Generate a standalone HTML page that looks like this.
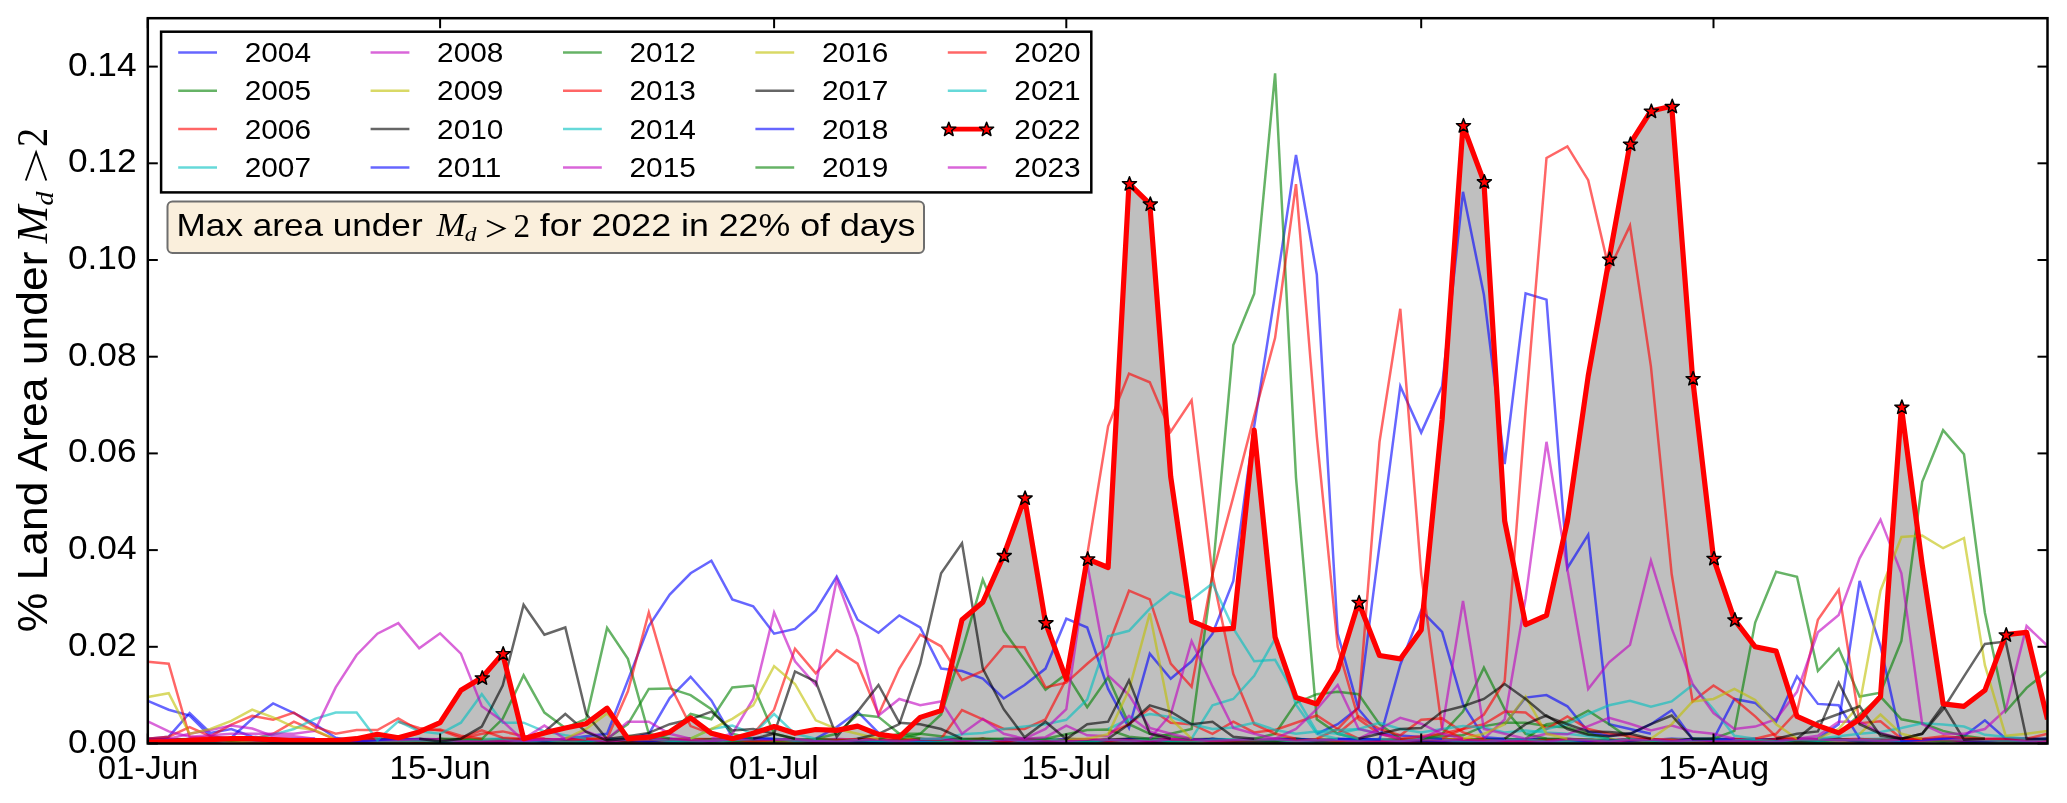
<!DOCTYPE html><html><head><meta charset="utf-8"><style>html,body{margin:0;padding:0;background:#fff;overflow:hidden}svg{display:block;-webkit-font-smoothing:antialiased;will-change:transform}</style></head><body><svg width="2067" height="803" viewBox="0 0 2067 803">
<rect x="0" y="0" width="2067" height="803" fill="#fff"/>
<defs><clipPath id="cp"><rect x="147.8" y="18.2" width="1899.7" height="725.3"/></clipPath></defs>
<g clip-path="url(#cp)">
<polygon points="147.8,743.5 147.8,742.0 168.7,741.6 189.6,740.6 210.4,739.6 231.3,738.7 252.2,738.7 273.1,739.6 293.9,740.6 314.8,740.6 335.7,740.6 356.6,738.7 377.4,734.3 398.3,737.7 419.2,731.9 440.1,722.7 460.9,690.3 481.8,677.7 502.7,653.6 523.6,738.7 544.4,732.9 565.3,728.0 586.2,723.7 607.1,708.2 627.9,738.7 648.8,737.2 669.7,731.9 690.6,717.9 711.4,733.3 732.3,738.7 753.2,733.3 774.1,726.6 795.0,733.3 815.8,729.5 836.7,730.4 857.6,726.1 878.5,734.3 899.3,737.2 920.2,717.4 941.1,710.6 962.0,619.7 982.8,602.3 1003.7,555.4 1024.6,497.9 1045.5,622.6 1066.3,679.2 1087.2,558.8 1108.1,567.5 1129.0,183.6 1149.8,203.9 1170.7,476.6 1191.6,621.2 1212.5,629.9 1233.3,628.4 1254.2,430.2 1275.1,637.1 1296.0,697.6 1316.8,703.9 1337.7,670.0 1358.6,602.3 1379.5,655.5 1400.3,658.9 1421.2,629.9 1442.1,419.5 1463.0,125.5 1483.9,181.6 1504.7,521.1 1525.6,624.6 1546.5,615.4 1567.4,521.1 1588.2,376.0 1609.1,259.0 1630.0,143.9 1650.9,111.0 1671.7,106.2 1692.6,378.4 1713.5,558.3 1734.4,619.7 1755.2,646.8 1776.1,651.1 1797.0,716.4 1817.9,725.6 1838.7,732.9 1859.6,719.3 1880.5,696.6 1901.4,407.0 1922.2,564.6 1943.1,703.9 1964.0,706.3 1984.9,690.3 2005.7,634.7 2026.6,632.3 2047.5,719.3 2047.5,743.5" fill="#bfbfbf" stroke="none"/>
<polyline points="147.8,741.0 168.7,741.5 189.6,739.8 210.4,741.8 231.3,740.2 252.2,740.8 273.1,741.9 293.9,740.3 314.8,741.9 335.7,740.6 356.6,741.8 377.4,741.7 398.3,740.6 419.2,739.3 440.1,741.6 460.9,741.3 481.8,739.9 502.7,738.8 523.6,740.1 544.4,740.7 565.3,738.7 586.2,741.9 607.1,739.1 627.9,741.1 648.8,741.6 669.7,741.7 690.6,741.0 711.4,739.3 732.3,741.4 753.2,740.1 774.1,739.9 795.0,740.8 815.8,740.2 836.7,741.8 857.6,741.8 878.5,741.4 899.3,739.7 920.2,740.6 941.1,741.0 962.0,740.1 982.8,740.5 1003.7,741.0 1024.6,739.4 1045.5,739.7 1066.3,741.2 1087.2,740.1 1108.1,740.3 1129.0,739.1 1149.8,739.6 1170.7,741.1 1191.6,738.7 1212.5,741.6 1233.3,740.6 1254.2,739.5 1275.1,741.5 1296.0,740.4 1316.8,741.9 1337.7,739.8 1358.6,739.5 1379.5,740.1 1400.3,739.1 1421.2,741.0 1442.1,739.7 1463.0,740.0 1483.9,740.1 1504.7,740.5 1525.6,739.2 1546.5,738.9 1567.4,740.4 1588.2,739.8 1609.1,741.8 1630.0,739.7 1650.9,739.9 1671.7,738.7 1692.6,739.3 1713.5,741.1 1734.4,740.7 1755.2,739.8 1776.1,742.0 1797.0,740.5 1817.9,741.5 1838.7,741.7 1859.6,741.8 1880.5,739.4 1901.4,741.6 1922.2,741.2 1943.1,740.7 1964.0,739.1 1984.9,741.8 2005.7,740.5 2026.6,740.2 2047.5,739.1" fill="none" stroke="#0000ff" stroke-opacity="0.6" stroke-width="2.5" stroke-linejoin="miter"/>
<polyline points="147.8,739.3 168.7,739.1 189.6,741.1 210.4,740.6 231.3,740.8 252.2,739.1 273.1,738.8 293.9,741.5 314.8,741.5 335.7,741.3 356.6,741.3 377.4,740.4 398.3,740.1 419.2,741.2 440.1,742.0 460.9,740.6 481.8,740.8 502.7,740.1 523.6,738.8 544.4,739.7 565.3,740.3 586.2,740.0 607.1,739.8 627.9,741.9 648.8,739.0 669.7,739.4 690.6,739.1 711.4,739.3 732.3,740.7 753.2,740.7 774.1,741.7 795.0,739.9 815.8,741.8 836.7,741.8 857.6,741.3 878.5,741.5 899.3,740.9 920.2,741.9 941.1,742.0 962.0,741.5 982.8,741.7 1003.7,740.8 1024.6,742.0 1045.5,739.1 1066.3,740.0 1087.2,741.5 1108.1,741.2 1129.0,740.9 1149.8,740.8 1170.7,741.6 1191.6,739.2 1212.5,738.7 1233.3,740.5 1254.2,740.4 1275.1,741.8 1296.0,741.7 1316.8,740.9 1337.7,741.2 1358.6,739.2 1379.5,741.5 1400.3,742.0 1421.2,738.8 1442.1,740.3 1463.0,741.6 1483.9,740.2 1504.7,742.0 1525.6,740.3 1546.5,738.7 1567.4,739.1 1588.2,739.7 1609.1,741.2 1630.0,740.8 1650.9,741.5 1671.7,739.4 1692.6,740.2 1713.5,739.4 1734.4,740.9 1755.2,741.3 1776.1,739.3 1797.0,738.7 1817.9,739.2 1838.7,739.3 1859.6,739.3 1880.5,739.5 1901.4,741.3 1922.2,740.3 1943.1,740.8 1964.0,742.0 1984.9,742.0 2005.7,741.1 2026.6,741.2 2047.5,739.7" fill="none" stroke="#008000" stroke-opacity="0.6" stroke-width="2.5" stroke-linejoin="miter"/>
<polyline points="147.8,738.8 168.7,740.5 189.6,738.9 210.4,738.7 231.3,738.8 252.2,740.8 273.1,741.3 293.9,741.3 314.8,741.4 335.7,741.4 356.6,739.9 377.4,739.0 398.3,739.2 419.2,740.4 440.1,739.8 460.9,739.3 481.8,741.8 502.7,739.8 523.6,739.0 544.4,739.4 565.3,739.5 586.2,740.4 607.1,741.4 627.9,739.4 648.8,740.9 669.7,739.3 690.6,738.8 711.4,740.7 732.3,740.7 753.2,738.8 774.1,739.6 795.0,741.5 815.8,741.6 836.7,741.5 857.6,739.0 878.5,739.3 899.3,741.6 920.2,739.3 941.1,738.7 962.0,739.8 982.8,740.9 1003.7,740.2 1024.6,741.6 1045.5,742.0 1066.3,738.8 1087.2,739.9 1108.1,740.3 1129.0,738.9 1149.8,740.6 1170.7,739.1 1191.6,739.3 1212.5,741.3 1233.3,741.2 1254.2,741.1 1275.1,741.2 1296.0,740.1 1316.8,741.2 1337.7,740.6 1358.6,741.6 1379.5,739.0 1400.3,740.9 1421.2,740.5 1442.1,740.1 1463.0,739.0 1483.9,740.6 1504.7,738.9 1525.6,740.4 1546.5,740.2 1567.4,740.3 1588.2,742.0 1609.1,740.6 1630.0,741.4 1650.9,742.0 1671.7,739.3 1692.6,741.5 1713.5,740.4 1734.4,739.6 1755.2,740.2 1776.1,740.9 1797.0,740.3 1817.9,740.2 1838.7,739.4 1859.6,741.7 1880.5,740.2 1901.4,741.2 1922.2,741.1 1943.1,739.4 1964.0,740.3 1984.9,740.1 2005.7,739.5 2026.6,739.0 2047.5,740.5" fill="none" stroke="#ff0000" stroke-opacity="0.6" stroke-width="2.5" stroke-linejoin="miter"/>
<polyline points="147.8,740.0 168.7,740.3 189.6,740.3 210.4,739.7 231.3,740.5 252.2,740.2 273.1,740.4 293.9,738.9 314.8,739.7 335.7,739.1 356.6,738.9 377.4,741.2 398.3,740.2 419.2,738.9 440.1,739.2 460.9,741.6 481.8,741.6 502.7,740.6 523.6,741.8 544.4,741.2 565.3,741.8 586.2,739.8 607.1,739.4 627.9,739.0 648.8,741.5 669.7,739.6 690.6,739.8 711.4,741.6 732.3,739.1 753.2,738.8 774.1,741.3 795.0,738.8 815.8,740.7 836.7,740.4 857.6,738.7 878.5,739.2 899.3,741.5 920.2,740.6 941.1,740.3 962.0,740.9 982.8,741.4 1003.7,741.0 1024.6,739.6 1045.5,742.0 1066.3,740.2 1087.2,740.6 1108.1,742.0 1129.0,740.9 1149.8,739.9 1170.7,740.3 1191.6,741.8 1212.5,738.7 1233.3,739.4 1254.2,738.8 1275.1,741.7 1296.0,741.2 1316.8,741.9 1337.7,739.4 1358.6,741.1 1379.5,741.6 1400.3,740.6 1421.2,739.0 1442.1,739.3 1463.0,741.2 1483.9,741.5 1504.7,738.9 1525.6,740.1 1546.5,739.7 1567.4,741.7 1588.2,741.9 1609.1,739.7 1630.0,740.6 1650.9,741.8 1671.7,738.9 1692.6,739.9 1713.5,739.3 1734.4,741.8 1755.2,739.2 1776.1,741.8 1797.0,739.1 1817.9,740.5 1838.7,740.9 1859.6,740.2 1880.5,738.9 1901.4,741.1 1922.2,741.6 1943.1,740.3 1964.0,741.2 1984.9,741.7 2005.7,741.5 2026.6,741.9 2047.5,741.4" fill="none" stroke="#00bfbf" stroke-opacity="0.6" stroke-width="2.5" stroke-linejoin="miter"/>
<polyline points="147.8,741.0 168.7,741.0 189.6,739.5 210.4,741.1 231.3,740.4 252.2,741.4 273.1,740.9 293.9,742.0 314.8,741.2 335.7,742.0 356.6,739.6 377.4,740.2 398.3,741.4 419.2,740.4 440.1,738.9 460.9,741.7 481.8,739.3 502.7,740.6 523.6,740.4 544.4,739.2 565.3,740.7 586.2,740.3 607.1,739.7 627.9,738.7 648.8,740.9 669.7,739.2 690.6,739.7 711.4,739.9 732.3,740.7 753.2,740.9 774.1,741.9 795.0,741.6 815.8,741.8 836.7,739.5 857.6,741.2 878.5,741.5 899.3,741.8 920.2,739.2 941.1,739.1 962.0,739.8 982.8,741.1 1003.7,741.2 1024.6,741.1 1045.5,740.5 1066.3,741.5 1087.2,740.5 1108.1,741.2 1129.0,738.8 1149.8,738.8 1170.7,740.2 1191.6,741.2 1212.5,738.8 1233.3,741.0 1254.2,740.8 1275.1,742.0 1296.0,740.8 1316.8,740.4 1337.7,740.3 1358.6,741.4 1379.5,740.3 1400.3,742.0 1421.2,741.2 1442.1,741.7 1463.0,740.7 1483.9,741.9 1504.7,742.0 1525.6,741.0 1546.5,741.3 1567.4,740.1 1588.2,740.3 1609.1,739.5 1630.0,739.8 1650.9,739.6 1671.7,739.1 1692.6,740.7 1713.5,740.9 1734.4,738.7 1755.2,741.5 1776.1,739.6 1797.0,739.9 1817.9,741.9 1838.7,739.2 1859.6,739.0 1880.5,739.9 1901.4,739.6 1922.2,739.3 1943.1,741.6 1964.0,740.3 1984.9,740.3 2005.7,739.2 2026.6,739.3 2047.5,739.3" fill="none" stroke="#bf00bf" stroke-opacity="0.6" stroke-width="2.5" stroke-linejoin="miter"/>
<polyline points="147.8,740.1 168.7,739.0 189.6,739.7 210.4,739.7 231.3,741.3 252.2,741.9 273.1,741.6 293.9,740.8 314.8,741.7 335.7,739.2 356.6,740.2 377.4,739.9 398.3,739.9 419.2,739.7 440.1,740.4 460.9,742.0 481.8,739.3 502.7,739.5 523.6,740.3 544.4,740.2 565.3,739.8 586.2,741.8 607.1,739.6 627.9,741.2 648.8,741.8 669.7,741.2 690.6,739.6 711.4,741.4 732.3,739.5 753.2,738.7 774.1,740.4 795.0,740.8 815.8,740.4 836.7,739.7 857.6,739.5 878.5,740.0 899.3,739.9 920.2,741.8 941.1,741.6 962.0,741.2 982.8,739.5 1003.7,741.0 1024.6,740.1 1045.5,742.0 1066.3,741.8 1087.2,741.1 1108.1,739.8 1129.0,739.7 1149.8,739.8 1170.7,741.1 1191.6,740.3 1212.5,740.5 1233.3,740.5 1254.2,741.6 1275.1,739.0 1296.0,741.4 1316.8,738.7 1337.7,738.9 1358.6,742.0 1379.5,740.5 1400.3,739.3 1421.2,738.8 1442.1,740.5 1463.0,741.1 1483.9,741.3 1504.7,738.8 1525.6,741.3 1546.5,740.1 1567.4,741.6 1588.2,740.3 1609.1,738.8 1630.0,741.6 1650.9,739.3 1671.7,740.3 1692.6,739.0 1713.5,739.7 1734.4,741.3 1755.2,739.0 1776.1,740.4 1797.0,742.0 1817.9,742.0 1838.7,740.4 1859.6,740.5 1880.5,741.0 1901.4,741.6 1922.2,740.9 1943.1,741.0 1964.0,739.2 1984.9,742.0 2005.7,739.5 2026.6,739.2 2047.5,741.6" fill="none" stroke="#bfbf00" stroke-opacity="0.6" stroke-width="2.5" stroke-linejoin="miter"/>
<polyline points="147.8,738.9 168.7,739.6 189.6,739.0 210.4,741.1 231.3,740.8 252.2,740.7 273.1,738.7 293.9,740.1 314.8,740.8 335.7,740.6 356.6,741.1 377.4,741.9 398.3,741.7 419.2,739.2 440.1,741.1 460.9,738.9 481.8,741.2 502.7,741.1 523.6,740.3 544.4,741.4 565.3,740.8 586.2,738.8 607.1,739.1 627.9,739.3 648.8,739.9 669.7,739.0 690.6,738.9 711.4,740.2 732.3,739.6 753.2,741.9 774.1,739.6 795.0,740.5 815.8,739.5 836.7,739.9 857.6,741.1 878.5,741.9 899.3,738.9 920.2,741.6 941.1,740.5 962.0,740.9 982.8,741.0 1003.7,739.5 1024.6,738.7 1045.5,741.2 1066.3,739.8 1087.2,741.0 1108.1,740.2 1129.0,740.7 1149.8,741.5 1170.7,741.5 1191.6,741.3 1212.5,739.0 1233.3,740.4 1254.2,741.3 1275.1,739.0 1296.0,738.7 1316.8,740.5 1337.7,741.6 1358.6,741.4 1379.5,741.7 1400.3,740.9 1421.2,741.7 1442.1,741.2 1463.0,741.2 1483.9,740.1 1504.7,739.0 1525.6,739.5 1546.5,740.7 1567.4,740.6 1588.2,740.3 1609.1,740.8 1630.0,740.9 1650.9,741.8 1671.7,741.1 1692.6,738.8 1713.5,741.6 1734.4,740.3 1755.2,739.9 1776.1,739.1 1797.0,741.3 1817.9,741.1 1838.7,741.2 1859.6,740.7 1880.5,740.5 1901.4,738.8 1922.2,739.2 1943.1,739.1 1964.0,742.0 1984.9,741.9 2005.7,739.6 2026.6,739.0 2047.5,740.4" fill="none" stroke="#000000" stroke-opacity="0.6" stroke-width="2.5" stroke-linejoin="miter"/>
<polyline points="147.8,740.1 168.7,742.0 189.6,740.7 210.4,738.9 231.3,739.3 252.2,739.2 273.1,738.8 293.9,741.2 314.8,741.7 335.7,741.5 356.6,740.3 377.4,739.7 398.3,738.9 419.2,739.6 440.1,739.9 460.9,739.5 481.8,740.5 502.7,740.2 523.6,741.9 544.4,739.4 565.3,741.3 586.2,738.9 607.1,739.9 627.9,741.0 648.8,741.6 669.7,741.2 690.6,739.9 711.4,739.7 732.3,741.7 753.2,741.8 774.1,740.3 795.0,740.1 815.8,740.7 836.7,741.3 857.6,740.0 878.5,742.0 899.3,741.0 920.2,740.5 941.1,738.8 962.0,739.9 982.8,739.1 1003.7,740.4 1024.6,741.3 1045.5,741.2 1066.3,738.8 1087.2,739.7 1108.1,741.0 1129.0,742.0 1149.8,740.4 1170.7,739.8 1191.6,740.6 1212.5,741.2 1233.3,739.8 1254.2,738.9 1275.1,741.3 1296.0,741.9 1316.8,740.9 1337.7,740.6 1358.6,739.7 1379.5,741.4 1400.3,739.4 1421.2,739.5 1442.1,740.3 1463.0,741.4 1483.9,738.8 1504.7,741.0 1525.6,739.3 1546.5,741.3 1567.4,741.3 1588.2,739.5 1609.1,741.1 1630.0,738.8 1650.9,740.4 1671.7,741.4 1692.6,741.3 1713.5,740.6 1734.4,739.8 1755.2,738.8 1776.1,741.6 1797.0,740.7 1817.9,741.3 1838.7,738.8 1859.6,741.6 1880.5,741.9 1901.4,741.8 1922.2,740.7 1943.1,739.0 1964.0,739.1 1984.9,739.6 2005.7,738.7 2026.6,738.9 2047.5,740.9" fill="none" stroke="#0000ff" stroke-opacity="0.6" stroke-width="2.5" stroke-linejoin="miter"/>
<polyline points="147.8,741.4 168.7,738.9 189.6,739.5 210.4,741.9 231.3,739.8 252.2,740.8 273.1,740.8 293.9,740.9 314.8,741.5 335.7,742.0 356.6,741.1 377.4,740.9 398.3,738.8 419.2,741.6 440.1,738.8 460.9,741.3 481.8,740.8 502.7,739.3 523.6,739.3 544.4,740.6 565.3,741.9 586.2,740.4 607.1,740.8 627.9,738.9 648.8,741.4 669.7,740.8 690.6,739.0 711.4,741.9 732.3,740.7 753.2,739.3 774.1,739.5 795.0,741.9 815.8,741.9 836.7,741.8 857.6,738.9 878.5,741.2 899.3,739.5 920.2,739.0 941.1,740.9 962.0,741.1 982.8,738.8 1003.7,740.0 1024.6,741.2 1045.5,739.6 1066.3,741.0 1087.2,741.1 1108.1,742.0 1129.0,739.5 1149.8,738.9 1170.7,739.9 1191.6,738.9 1212.5,742.0 1233.3,741.3 1254.2,740.4 1275.1,738.8 1296.0,738.8 1316.8,740.7 1337.7,741.2 1358.6,740.6 1379.5,740.4 1400.3,738.9 1421.2,741.4 1442.1,739.3 1463.0,739.5 1483.9,739.3 1504.7,739.4 1525.6,740.0 1546.5,740.9 1567.4,741.0 1588.2,740.8 1609.1,739.4 1630.0,741.8 1650.9,741.4 1671.7,739.5 1692.6,741.2 1713.5,741.8 1734.4,741.9 1755.2,740.2 1776.1,740.9 1797.0,738.7 1817.9,739.1 1838.7,738.7 1859.6,741.2 1880.5,741.8 1901.4,741.7 1922.2,740.4 1943.1,739.6 1964.0,740.5 1984.9,741.3 2005.7,740.6 2026.6,739.9 2047.5,739.8" fill="none" stroke="#008000" stroke-opacity="0.6" stroke-width="2.5" stroke-linejoin="miter"/>
<polyline points="147.8,739.5 168.7,739.2 189.6,739.8 210.4,741.6 231.3,739.2 252.2,741.1 273.1,740.1 293.9,740.8 314.8,739.6 335.7,741.4 356.6,741.2 377.4,741.2 398.3,741.5 419.2,739.1 440.1,740.1 460.9,740.9 481.8,740.7 502.7,738.7 523.6,740.3 544.4,741.3 565.3,739.3 586.2,739.8 607.1,738.7 627.9,741.7 648.8,740.4 669.7,739.3 690.6,739.2 711.4,739.0 732.3,741.9 753.2,741.1 774.1,741.6 795.0,741.4 815.8,738.8 836.7,740.1 857.6,738.9 878.5,740.8 899.3,739.1 920.2,740.5 941.1,741.2 962.0,739.4 982.8,738.8 1003.7,741.7 1024.6,740.0 1045.5,740.0 1066.3,741.3 1087.2,740.8 1108.1,741.6 1129.0,741.4 1149.8,741.2 1170.7,740.0 1191.6,739.8 1212.5,741.4 1233.3,742.0 1254.2,740.9 1275.1,739.8 1296.0,741.4 1316.8,741.0 1337.7,741.4 1358.6,739.4 1379.5,740.2 1400.3,741.8 1421.2,741.7 1442.1,740.7 1463.0,740.2 1483.9,739.9 1504.7,741.7 1525.6,741.5 1546.5,739.7 1567.4,740.7 1588.2,741.1 1609.1,741.0 1630.0,738.8 1650.9,741.0 1671.7,740.1 1692.6,740.8 1713.5,740.6 1734.4,739.1 1755.2,738.7 1776.1,740.8 1797.0,741.4 1817.9,739.6 1838.7,741.4 1859.6,742.0 1880.5,739.0 1901.4,740.6 1922.2,739.3 1943.1,740.7 1964.0,739.1 1984.9,740.5 2005.7,741.5 2026.6,742.0 2047.5,740.2" fill="none" stroke="#ff0000" stroke-opacity="0.6" stroke-width="2.5" stroke-linejoin="miter"/>
<polyline points="147.8,739.9 168.7,739.0 189.6,741.7 210.4,739.9 231.3,740.8 252.2,740.3 273.1,741.6 293.9,741.1 314.8,740.3 335.7,738.9 356.6,741.7 377.4,740.4 398.3,739.3 419.2,738.8 440.1,741.4 460.9,741.6 481.8,738.9 502.7,738.7 523.6,740.4 544.4,741.9 565.3,738.9 586.2,740.7 607.1,739.0 627.9,739.9 648.8,739.3 669.7,741.5 690.6,739.4 711.4,741.3 732.3,740.7 753.2,739.2 774.1,739.2 795.0,741.4 815.8,741.3 836.7,740.7 857.6,740.3 878.5,740.8 899.3,741.6 920.2,741.2 941.1,739.6 962.0,739.0 982.8,741.9 1003.7,740.1 1024.6,739.5 1045.5,741.9 1066.3,739.2 1087.2,741.7 1108.1,740.0 1129.0,740.2 1149.8,739.9 1170.7,741.0 1191.6,740.6 1212.5,740.1 1233.3,740.6 1254.2,739.8 1275.1,740.5 1296.0,740.6 1316.8,742.0 1337.7,740.0 1358.6,740.4 1379.5,741.3 1400.3,739.5 1421.2,739.4 1442.1,740.5 1463.0,741.4 1483.9,740.4 1504.7,741.7 1525.6,741.6 1546.5,740.6 1567.4,741.7 1588.2,740.6 1609.1,740.3 1630.0,741.9 1650.9,739.9 1671.7,741.8 1692.6,739.6 1713.5,739.4 1734.4,740.3 1755.2,741.9 1776.1,740.3 1797.0,740.8 1817.9,738.8 1838.7,741.6 1859.6,739.1 1880.5,738.7 1901.4,739.6 1922.2,739.3 1943.1,741.4 1964.0,738.7 1984.9,740.4 2005.7,738.8 2026.6,738.9 2047.5,741.5" fill="none" stroke="#00bfbf" stroke-opacity="0.6" stroke-width="2.5" stroke-linejoin="miter"/>
<polyline points="147.8,739.4 168.7,738.9 189.6,741.8 210.4,740.9 231.3,739.5 252.2,741.5 273.1,739.0 293.9,741.1 314.8,739.3 335.7,741.6 356.6,740.3 377.4,738.9 398.3,741.3 419.2,741.2 440.1,740.3 460.9,741.0 481.8,741.9 502.7,741.4 523.6,741.5 544.4,738.9 565.3,739.7 586.2,739.0 607.1,741.5 627.9,739.4 648.8,741.7 669.7,740.3 690.6,739.9 711.4,740.8 732.3,739.1 753.2,740.2 774.1,740.1 795.0,739.1 815.8,741.7 836.7,738.7 857.6,739.9 878.5,740.7 899.3,739.3 920.2,741.2 941.1,738.7 962.0,740.1 982.8,740.8 1003.7,739.5 1024.6,740.6 1045.5,741.5 1066.3,739.5 1087.2,741.9 1108.1,739.3 1129.0,741.2 1149.8,739.9 1170.7,738.7 1191.6,740.1 1212.5,739.8 1233.3,741.0 1254.2,742.0 1275.1,741.9 1296.0,741.5 1316.8,740.0 1337.7,740.6 1358.6,740.3 1379.5,739.0 1400.3,741.6 1421.2,741.3 1442.1,739.8 1463.0,742.0 1483.9,742.0 1504.7,740.8 1525.6,741.7 1546.5,740.8 1567.4,741.3 1588.2,740.1 1609.1,740.1 1630.0,741.4 1650.9,739.9 1671.7,740.4 1692.6,741.6 1713.5,738.9 1734.4,741.2 1755.2,741.5 1776.1,741.7 1797.0,739.9 1817.9,739.1 1838.7,739.4 1859.6,740.7 1880.5,741.2 1901.4,742.0 1922.2,739.9 1943.1,740.1 1964.0,740.9 1984.9,739.9 2005.7,740.5 2026.6,738.9 2047.5,739.6" fill="none" stroke="#bf00bf" stroke-opacity="0.6" stroke-width="2.5" stroke-linejoin="miter"/>
<polyline points="147.8,741.2 168.7,739.0 189.6,741.9 210.4,740.3 231.3,740.7 252.2,741.2 273.1,741.9 293.9,739.4 314.8,742.0 335.7,740.2 356.6,738.9 377.4,741.6 398.3,741.4 419.2,740.0 440.1,740.3 460.9,739.9 481.8,739.3 502.7,741.5 523.6,741.0 544.4,741.0 565.3,741.9 586.2,739.0 607.1,739.4 627.9,739.6 648.8,742.0 669.7,739.2 690.6,739.5 711.4,740.5 732.3,739.5 753.2,740.5 774.1,741.3 795.0,741.7 815.8,741.3 836.7,741.9 857.6,740.9 878.5,739.5 899.3,739.7 920.2,739.2 941.1,739.6 962.0,741.1 982.8,740.2 1003.7,740.6 1024.6,739.4 1045.5,740.3 1066.3,741.2 1087.2,739.9 1108.1,738.8 1129.0,741.3 1149.8,739.1 1170.7,742.0 1191.6,741.2 1212.5,741.3 1233.3,739.5 1254.2,738.9 1275.1,739.5 1296.0,740.9 1316.8,739.1 1337.7,740.9 1358.6,741.2 1379.5,739.0 1400.3,739.9 1421.2,739.7 1442.1,739.8 1463.0,738.7 1483.9,740.5 1504.7,739.2 1525.6,739.7 1546.5,739.1 1567.4,740.6 1588.2,739.6 1609.1,740.1 1630.0,741.0 1650.9,741.3 1671.7,739.9 1692.6,741.8 1713.5,739.0 1734.4,741.6 1755.2,742.0 1776.1,741.7 1797.0,738.9 1817.9,740.9 1838.7,741.6 1859.6,742.0 1880.5,741.9 1901.4,739.7 1922.2,739.9 1943.1,739.7 1964.0,739.6 1984.9,741.8 2005.7,740.1 2026.6,740.8 2047.5,739.3" fill="none" stroke="#bfbf00" stroke-opacity="0.6" stroke-width="2.5" stroke-linejoin="miter"/>
<polyline points="147.8,739.3 168.7,739.0 189.6,741.8 210.4,739.1 231.3,739.0 252.2,738.9 273.1,741.7 293.9,741.4 314.8,741.7 335.7,741.9 356.6,739.2 377.4,739.3 398.3,739.9 419.2,739.3 440.1,739.9 460.9,741.1 481.8,741.7 502.7,741.7 523.6,739.5 544.4,741.4 565.3,741.0 586.2,740.6 607.1,742.0 627.9,741.2 648.8,741.1 669.7,739.6 690.6,740.8 711.4,741.0 732.3,738.8 753.2,740.3 774.1,739.2 795.0,740.0 815.8,741.9 836.7,740.7 857.6,740.6 878.5,739.4 899.3,740.9 920.2,739.7 941.1,740.2 962.0,741.3 982.8,739.1 1003.7,741.7 1024.6,739.3 1045.5,741.5 1066.3,742.0 1087.2,741.4 1108.1,739.5 1129.0,738.7 1149.8,742.0 1170.7,740.4 1191.6,740.4 1212.5,739.4 1233.3,741.4 1254.2,740.4 1275.1,740.9 1296.0,739.2 1316.8,741.2 1337.7,738.9 1358.6,741.1 1379.5,741.3 1400.3,739.7 1421.2,740.4 1442.1,741.7 1463.0,739.9 1483.9,741.8 1504.7,739.4 1525.6,739.7 1546.5,739.4 1567.4,739.9 1588.2,740.8 1609.1,740.7 1630.0,740.7 1650.9,739.0 1671.7,741.8 1692.6,739.0 1713.5,742.0 1734.4,741.4 1755.2,741.2 1776.1,739.0 1797.0,740.4 1817.9,740.8 1838.7,739.1 1859.6,741.3 1880.5,740.5 1901.4,740.3 1922.2,739.5 1943.1,739.5 1964.0,739.9 1984.9,740.9 2005.7,740.9 2026.6,741.5 2047.5,739.2" fill="none" stroke="#000000" stroke-opacity="0.6" stroke-width="2.5" stroke-linejoin="miter"/>
<polyline points="147.8,739.8 168.7,739.5 189.6,741.5 210.4,740.6 231.3,739.4 252.2,740.1 273.1,741.6 293.9,740.5 314.8,739.1 335.7,741.2 356.6,741.4 377.4,741.0 398.3,739.7 419.2,739.2 440.1,741.5 460.9,741.5 481.8,741.2 502.7,740.9 523.6,740.3 544.4,741.5 565.3,740.9 586.2,741.4 607.1,738.7 627.9,739.6 648.8,741.7 669.7,738.8 690.6,741.7 711.4,740.7 732.3,738.7 753.2,739.4 774.1,739.6 795.0,740.6 815.8,741.4 836.7,739.9 857.6,741.7 878.5,741.4 899.3,740.7 920.2,741.9 941.1,740.7 962.0,739.4 982.8,739.7 1003.7,740.4 1024.6,739.9 1045.5,740.5 1066.3,741.6 1087.2,740.0 1108.1,740.7 1129.0,739.5 1149.8,739.0 1170.7,740.6 1191.6,740.1 1212.5,739.5 1233.3,740.6 1254.2,741.3 1275.1,739.6 1296.0,739.1 1316.8,739.4 1337.7,739.7 1358.6,739.2 1379.5,739.7 1400.3,739.9 1421.2,740.5 1442.1,741.0 1463.0,739.9 1483.9,741.7 1504.7,740.6 1525.6,739.4 1546.5,739.6 1567.4,739.9 1588.2,741.2 1609.1,740.6 1630.0,740.5 1650.9,739.9 1671.7,740.7 1692.6,739.8 1713.5,738.9 1734.4,741.4 1755.2,739.8 1776.1,739.4 1797.0,740.7 1817.9,740.4 1838.7,738.8 1859.6,741.9 1880.5,740.2 1901.4,741.5 1922.2,739.4 1943.1,738.9 1964.0,740.3 1984.9,741.7 2005.7,740.1 2026.6,740.2 2047.5,739.6" fill="none" stroke="#0000ff" stroke-opacity="0.6" stroke-width="2.5" stroke-linejoin="miter"/>
<polyline points="147.8,740.3 168.7,739.9 189.6,739.2 210.4,740.3 231.3,740.7 252.2,738.8 273.1,741.3 293.9,739.7 314.8,740.7 335.7,739.5 356.6,741.6 377.4,738.7 398.3,740.8 419.2,741.9 440.1,741.1 460.9,740.7 481.8,742.0 502.7,740.6 523.6,740.6 544.4,739.7 565.3,740.9 586.2,741.2 607.1,741.3 627.9,739.5 648.8,738.9 669.7,740.3 690.6,741.3 711.4,739.3 732.3,740.7 753.2,741.3 774.1,741.6 795.0,739.4 815.8,739.3 836.7,739.9 857.6,740.5 878.5,740.1 899.3,741.3 920.2,738.8 941.1,740.9 962.0,739.9 982.8,739.3 1003.7,739.3 1024.6,740.5 1045.5,741.1 1066.3,740.2 1087.2,741.6 1108.1,739.2 1129.0,740.8 1149.8,739.2 1170.7,741.1 1191.6,740.8 1212.5,741.2 1233.3,740.6 1254.2,741.4 1275.1,742.0 1296.0,739.6 1316.8,741.1 1337.7,741.2 1358.6,741.0 1379.5,740.4 1400.3,740.6 1421.2,739.9 1442.1,739.8 1463.0,740.8 1483.9,738.9 1504.7,739.2 1525.6,741.9 1546.5,739.2 1567.4,739.0 1588.2,739.4 1609.1,741.6 1630.0,739.2 1650.9,739.9 1671.7,742.0 1692.6,742.0 1713.5,738.8 1734.4,739.8 1755.2,741.2 1776.1,741.7 1797.0,741.6 1817.9,741.3 1838.7,739.4 1859.6,740.9 1880.5,741.5 1901.4,739.0 1922.2,739.4 1943.1,741.5 1964.0,739.0 1984.9,740.0 2005.7,739.4 2026.6,739.8 2047.5,739.0" fill="none" stroke="#008000" stroke-opacity="0.6" stroke-width="2.5" stroke-linejoin="miter"/>
<polyline points="147.8,739.4 168.7,739.2 189.6,741.4 210.4,739.7 231.3,740.3 252.2,739.5 273.1,740.6 293.9,739.1 314.8,740.2 335.7,741.2 356.6,741.3 377.4,741.6 398.3,740.4 419.2,741.9 440.1,740.5 460.9,741.6 481.8,740.4 502.7,740.4 523.6,740.2 544.4,739.1 565.3,742.0 586.2,739.2 607.1,740.5 627.9,740.1 648.8,739.8 669.7,739.2 690.6,740.8 711.4,740.6 732.3,738.8 753.2,741.8 774.1,739.9 795.0,739.9 815.8,742.0 836.7,740.0 857.6,739.7 878.5,738.9 899.3,740.9 920.2,738.7 941.1,740.3 962.0,740.4 982.8,739.0 1003.7,741.9 1024.6,739.6 1045.5,739.9 1066.3,740.9 1087.2,739.1 1108.1,740.8 1129.0,740.4 1149.8,740.3 1170.7,739.4 1191.6,741.3 1212.5,740.6 1233.3,740.6 1254.2,740.2 1275.1,739.3 1296.0,741.1 1316.8,739.2 1337.7,740.7 1358.6,740.3 1379.5,741.1 1400.3,740.3 1421.2,738.7 1442.1,739.8 1463.0,739.4 1483.9,740.9 1504.7,741.0 1525.6,741.0 1546.5,740.1 1567.4,739.9 1588.2,739.4 1609.1,741.9 1630.0,739.6 1650.9,739.1 1671.7,740.2 1692.6,741.9 1713.5,741.0 1734.4,742.0 1755.2,741.4 1776.1,738.9 1797.0,740.0 1817.9,739.8 1838.7,739.4 1859.6,739.0 1880.5,740.0 1901.4,740.0 1922.2,739.9 1943.1,739.7 1964.0,740.0 1984.9,739.7 2005.7,741.3 2026.6,739.8 2047.5,740.5" fill="none" stroke="#ff0000" stroke-opacity="0.6" stroke-width="2.5" stroke-linejoin="miter"/>
<polyline points="147.8,739.5 168.7,741.7 189.6,741.4 210.4,741.9 231.3,739.4 252.2,739.0 273.1,739.8 293.9,740.8 314.8,739.3 335.7,739.4 356.6,740.1 377.4,741.2 398.3,741.0 419.2,740.6 440.1,741.0 460.9,740.6 481.8,739.9 502.7,738.9 523.6,741.9 544.4,740.1 565.3,741.9 586.2,741.6 607.1,739.3 627.9,740.1 648.8,738.9 669.7,740.5 690.6,742.0 711.4,740.7 732.3,740.0 753.2,738.9 774.1,738.7 795.0,740.4 815.8,740.7 836.7,741.7 857.6,739.9 878.5,741.3 899.3,741.5 920.2,742.0 941.1,742.0 962.0,739.7 982.8,741.6 1003.7,738.8 1024.6,741.8 1045.5,739.1 1066.3,741.6 1087.2,742.0 1108.1,739.6 1129.0,741.2 1149.8,739.6 1170.7,741.4 1191.6,741.9 1212.5,739.4 1233.3,739.6 1254.2,739.2 1275.1,739.6 1296.0,741.8 1316.8,739.9 1337.7,739.6 1358.6,740.5 1379.5,738.9 1400.3,741.2 1421.2,738.8 1442.1,739.6 1463.0,742.0 1483.9,742.0 1504.7,739.8 1525.6,739.3 1546.5,741.8 1567.4,741.0 1588.2,739.6 1609.1,741.5 1630.0,739.1 1650.9,740.4 1671.7,741.8 1692.6,740.8 1713.5,740.1 1734.4,740.6 1755.2,739.8 1776.1,741.6 1797.0,739.4 1817.9,740.8 1838.7,739.9 1859.6,739.9 1880.5,740.6 1901.4,740.7 1922.2,739.4 1943.1,738.9 1964.0,739.4 1984.9,740.1 2005.7,741.1 2026.6,741.8 2047.5,738.8" fill="none" stroke="#00bfbf" stroke-opacity="0.6" stroke-width="2.5" stroke-linejoin="miter"/>
<polyline points="147.8,739.7 168.7,739.2 189.6,740.9 210.4,740.0 231.3,738.7 252.2,739.2 273.1,740.0 293.9,741.0 314.8,740.6 335.7,739.0 356.6,740.8 377.4,739.7 398.3,740.0 419.2,739.0 440.1,739.3 460.9,741.1 481.8,742.0 502.7,741.2 523.6,740.6 544.4,740.1 565.3,739.3 586.2,739.0 607.1,741.9 627.9,739.2 648.8,739.3 669.7,739.1 690.6,740.1 711.4,741.1 732.3,739.2 753.2,739.3 774.1,739.7 795.0,739.0 815.8,740.9 836.7,741.8 857.6,740.2 878.5,739.4 899.3,741.4 920.2,739.5 941.1,738.9 962.0,741.3 982.8,740.0 1003.7,739.8 1024.6,740.5 1045.5,741.4 1066.3,741.2 1087.2,739.5 1108.1,739.4 1129.0,740.5 1149.8,741.8 1170.7,739.3 1191.6,739.4 1212.5,741.3 1233.3,740.1 1254.2,739.0 1275.1,739.1 1296.0,740.3 1316.8,740.4 1337.7,740.1 1358.6,741.4 1379.5,741.4 1400.3,741.4 1421.2,739.7 1442.1,740.8 1463.0,740.1 1483.9,740.7 1504.7,740.3 1525.6,741.5 1546.5,741.9 1567.4,738.7 1588.2,740.8 1609.1,741.7 1630.0,739.9 1650.9,739.4 1671.7,741.5 1692.6,740.0 1713.5,740.9 1734.4,740.3 1755.2,742.0 1776.1,741.9 1797.0,738.7 1817.9,739.1 1838.7,740.4 1859.6,740.1 1880.5,741.2 1901.4,739.4 1922.2,740.6 1943.1,738.8 1964.0,739.5 1984.9,739.3 2005.7,738.8 2026.6,741.2 2047.5,741.9" fill="none" stroke="#bf00bf" stroke-opacity="0.6" stroke-width="2.5" stroke-linejoin="miter"/>
<polyline points="147.8,700.9 168.7,709.7 189.6,715.5 210.4,736.2 231.3,738.7 252.2,738.7 273.1,738.7 293.9,738.7 314.8,738.7" fill="none" stroke="#0000ff" stroke-opacity="0.6" stroke-width="2.5" stroke-linejoin="miter"/>
<polyline points="147.8,738.7 168.7,736.7 189.6,713.0 210.4,732.9 231.3,729.0 252.2,736.7 273.1,738.7" fill="none" stroke="#0000ff" stroke-opacity="0.6" stroke-width="2.5" stroke-linejoin="miter"/>
<polyline points="210.4,738.7 231.3,737.7 252.2,718.8 273.1,703.4 293.9,713.0 314.8,724.2 335.7,737.7 356.6,741.6 377.4,740.1 398.3,738.7" fill="none" stroke="#0000ff" stroke-opacity="0.6" stroke-width="2.5" stroke-linejoin="miter"/>
<polyline points="565.3,738.7 586.2,736.2 607.1,733.8 627.9,680.2 648.8,626.0 669.7,594.6 690.6,573.3 711.4,560.7 732.3,599.4 753.2,606.2 774.1,633.7 795.0,628.9 815.8,610.5 836.7,576.7 857.6,619.7 878.5,632.8 899.3,615.4 920.2,627.5 941.1,668.6 962.0,671.0 982.8,678.7 1003.7,698.5 1024.6,685.0 1045.5,668.6 1066.3,618.7 1087.2,627.5 1108.1,688.9 1129.0,728.0 1149.8,653.6 1170.7,678.7 1191.6,661.3 1212.5,633.7 1233.3,581.0 1254.2,426.3 1275.1,293.8 1296.0,155.0 1316.8,274.5 1337.7,633.7 1358.6,709.2 1379.5,733.8 1400.3,735.4 1421.2,737.1 1442.1,738.7" fill="none" stroke="#0000ff" stroke-opacity="0.6" stroke-width="2.5" stroke-linejoin="miter"/>
<polyline points="627.9,738.7 648.8,733.8 669.7,698.0 690.6,676.8 711.4,700.5 732.3,737.2 753.2,737.9 774.1,738.7" fill="none" stroke="#0000ff" stroke-opacity="0.6" stroke-width="2.5" stroke-linejoin="miter"/>
<polyline points="815.8,738.7 836.7,727.1 857.6,711.6 878.5,732.9 899.3,738.7" fill="none" stroke="#0000ff" stroke-opacity="0.6" stroke-width="2.5" stroke-linejoin="miter"/>
<polyline points="1316.8,733.8 1337.7,724.2 1358.6,707.7 1379.5,545.3 1400.3,386.2 1421.2,432.6 1442.1,386.2 1463.0,191.8 1483.9,294.8 1504.7,464.0 1525.6,293.3 1546.5,299.6 1567.4,568.0 1588.2,534.6 1609.1,724.2 1630.0,729.0 1650.9,733.8" fill="none" stroke="#0000ff" stroke-opacity="0.6" stroke-width="2.5" stroke-linejoin="miter"/>
<polyline points="1504.7,724.2 1525.6,697.6 1546.5,695.1 1567.4,706.3 1588.2,731.9 1609.1,735.8 1630.0,733.8 1650.9,724.2 1671.7,710.1 1692.6,739.1 1713.5,738.9 1734.4,738.7" fill="none" stroke="#0000ff" stroke-opacity="0.6" stroke-width="2.5" stroke-linejoin="miter"/>
<polyline points="1692.6,738.7 1713.5,739.1 1734.4,699.0 1755.2,702.9 1776.1,721.7 1797.0,676.3 1817.9,703.9 1838.7,705.3 1859.6,738.7" fill="none" stroke="#0000ff" stroke-opacity="0.6" stroke-width="2.5" stroke-linejoin="miter"/>
<polyline points="1817.9,738.7 1838.7,724.2 1859.6,581.0 1880.5,646.3 1901.4,740.6 1922.2,739.6 1943.1,738.7" fill="none" stroke="#0000ff" stroke-opacity="0.6" stroke-width="2.5" stroke-linejoin="miter"/>
<polyline points="1943.1,738.7 1964.0,736.2 1984.9,720.3 2005.7,738.7 2026.6,738.7 2047.5,738.7" fill="none" stroke="#0000ff" stroke-opacity="0.6" stroke-width="2.5" stroke-linejoin="miter"/>
<polyline points="1337.7,738.7 1358.6,739.1 1379.5,739.6 1400.3,664.7 1421.2,610.5 1442.1,631.8 1463.0,704.3 1483.9,737.2 1504.7,738.7" fill="none" stroke="#0000ff" stroke-opacity="0.6" stroke-width="2.5" stroke-linejoin="miter"/>
<polyline points="440.1,738.7 460.9,738.9 481.8,739.1 502.7,718.8 523.6,675.3 544.4,712.6 565.3,728.0 586.2,718.8 607.1,627.9 627.9,658.9 648.8,733.8 669.7,738.7" fill="none" stroke="#008000" stroke-opacity="0.6" stroke-width="2.5" stroke-linejoin="miter"/>
<polyline points="607.1,738.7 627.9,724.2 648.8,688.9 669.7,688.4 690.6,695.1 711.4,709.2 732.3,733.8 753.2,738.7" fill="none" stroke="#008000" stroke-opacity="0.6" stroke-width="2.5" stroke-linejoin="miter"/>
<polyline points="648.8,738.7 669.7,733.8 690.6,714.0 711.4,719.3 732.3,687.4 753.2,685.5 774.1,733.8 795.0,738.7" fill="none" stroke="#008000" stroke-opacity="0.6" stroke-width="2.5" stroke-linejoin="miter"/>
<polyline points="815.8,738.7 836.7,733.8 857.6,714.5 878.5,716.9 899.3,733.8 920.2,738.7" fill="none" stroke="#008000" stroke-opacity="0.6" stroke-width="2.5" stroke-linejoin="miter"/>
<polyline points="899.3,738.7 920.2,733.8 941.1,714.5 962.0,650.7 982.8,579.6 1003.7,630.8 1024.6,659.8 1045.5,689.8 1066.3,673.9 1087.2,707.2 1108.1,677.3 1129.0,724.2 1149.8,733.8 1170.7,736.2 1191.6,738.7" fill="none" stroke="#008000" stroke-opacity="0.6" stroke-width="2.5" stroke-linejoin="miter"/>
<polyline points="1149.8,738.7 1170.7,733.8 1191.6,729.0 1212.5,574.3 1233.3,345.1 1254.2,293.8 1275.1,73.3 1296.0,477.6 1316.8,719.3 1337.7,733.8 1358.6,738.7" fill="none" stroke="#008000" stroke-opacity="0.6" stroke-width="2.5" stroke-linejoin="miter"/>
<polyline points="1254.2,738.7 1275.1,733.8 1296.0,702.9 1316.8,694.2 1337.7,691.8 1358.6,694.2 1379.5,724.2 1400.3,738.7" fill="none" stroke="#008000" stroke-opacity="0.6" stroke-width="2.5" stroke-linejoin="miter"/>
<polyline points="1421.2,738.7 1442.1,733.8 1463.0,711.6 1483.9,667.6 1504.7,709.2 1525.6,733.8 1546.5,738.7" fill="none" stroke="#008000" stroke-opacity="0.6" stroke-width="2.5" stroke-linejoin="miter"/>
<polyline points="1692.6,738.7 1713.5,738.7 1734.4,730.9 1755.2,622.6 1776.1,571.8 1797.0,576.7 1817.9,671.0 1838.7,648.7 1859.6,696.6 1880.5,692.7 1901.4,641.0 1922.2,481.9 1943.1,430.2 1964.0,454.3 1984.9,612.9 2005.7,711.6 2026.6,687.9 2047.5,671.0" fill="none" stroke="#008000" stroke-opacity="0.6" stroke-width="2.5" stroke-linejoin="miter"/>
<polyline points="1525.6,738.7 1546.5,724.2 1567.4,721.7 1588.2,710.6 1609.1,724.2 1630.0,738.7" fill="none" stroke="#008000" stroke-opacity="0.6" stroke-width="2.5" stroke-linejoin="miter"/>
<polyline points="878.5,738.7 899.3,733.8 920.2,733.8 941.1,736.2 962.0,738.7 982.8,738.7 1003.7,738.7 1024.6,738.7 1045.5,738.7 1066.3,734.3 1087.2,730.0 1108.1,729.5 1129.0,736.7 1149.8,738.7" fill="none" stroke="#008000" stroke-opacity="0.6" stroke-width="2.5" stroke-linejoin="miter"/>
<polyline points="1838.7,733.8 1859.6,714.5 1880.5,696.6 1901.4,719.3 1922.2,723.2 1943.1,730.9 1964.0,735.8 1984.9,738.7" fill="none" stroke="#008000" stroke-opacity="0.6" stroke-width="2.5" stroke-linejoin="miter"/>
<polyline points="1421.2,738.7 1442.1,736.2 1463.0,735.3 1483.9,726.1 1504.7,722.7 1525.6,722.7 1546.5,726.1 1567.4,727.5 1588.2,733.8 1609.1,738.7" fill="none" stroke="#008000" stroke-opacity="0.6" stroke-width="2.5" stroke-linejoin="miter"/>
<polyline points="147.8,661.8 168.7,663.7 189.6,736.7 210.4,738.7 231.3,738.7 252.2,738.7" fill="none" stroke="#ff0000" stroke-opacity="0.6" stroke-width="2.5" stroke-linejoin="miter"/>
<polyline points="189.6,738.7 210.4,736.2 231.3,724.6 252.2,715.9 273.1,719.8 293.9,712.6 314.8,726.6 335.7,733.8 356.6,730.0 377.4,730.0 398.3,718.4 419.2,730.4 440.1,729.5 460.9,735.8 481.8,738.7" fill="none" stroke="#ff0000" stroke-opacity="0.6" stroke-width="2.5" stroke-linejoin="miter"/>
<polyline points="231.3,738.7 252.2,739.1 273.1,733.8 293.9,721.7 314.8,730.9 335.7,739.6 356.6,739.1 377.4,738.7" fill="none" stroke="#ff0000" stroke-opacity="0.6" stroke-width="2.5" stroke-linejoin="miter"/>
<polyline points="147.8,738.7 168.7,736.7 189.6,727.1 210.4,736.2 231.3,738.7" fill="none" stroke="#ff0000" stroke-opacity="0.6" stroke-width="2.5" stroke-linejoin="miter"/>
<polyline points="565.3,738.7 586.2,738.7 607.1,738.7 627.9,691.3 648.8,612.5 669.7,684.5 690.6,726.1 711.4,733.8 732.3,738.7" fill="none" stroke="#ff0000" stroke-opacity="0.6" stroke-width="2.5" stroke-linejoin="miter"/>
<polyline points="732.3,738.7 753.2,733.8 774.1,709.7 795.0,648.7 815.8,673.4 836.7,650.2 857.6,663.7 878.5,714.5 899.3,668.6 920.2,634.7 941.1,646.3 962.0,680.2 982.8,671.0 1003.7,646.3 1024.6,647.3 1045.5,687.4 1066.3,682.6 1087.2,663.7 1108.1,646.3 1129.0,590.7 1149.8,599.4 1170.7,663.7 1191.6,686.9 1212.5,574.3 1233.3,496.9 1254.2,415.7 1275.1,337.8 1296.0,184.1 1316.8,436.5 1337.7,646.8 1358.6,719.3 1379.5,733.8 1400.3,738.7" fill="none" stroke="#ff0000" stroke-opacity="0.6" stroke-width="2.5" stroke-linejoin="miter"/>
<polyline points="941.1,738.7 962.0,710.1 982.8,719.3 1003.7,729.0 1024.6,729.0 1045.5,719.3 1066.3,679.2 1087.2,554.9 1108.1,426.3 1129.0,373.6 1149.8,382.3 1170.7,431.6 1191.6,400.2 1212.5,575.2 1233.3,673.9 1254.2,724.2 1275.1,733.8 1296.0,738.7" fill="none" stroke="#ff0000" stroke-opacity="0.6" stroke-width="2.5" stroke-linejoin="miter"/>
<polyline points="1108.1,733.8 1129.0,724.2 1149.8,708.2 1170.7,722.7 1191.6,724.2 1212.5,733.8 1233.3,721.7 1254.2,732.4 1275.1,730.0 1296.0,722.7 1316.8,715.5 1337.7,729.0 1358.6,738.7" fill="none" stroke="#ff0000" stroke-opacity="0.6" stroke-width="2.5" stroke-linejoin="miter"/>
<polyline points="1316.8,738.7 1337.7,729.0 1358.6,707.2 1379.5,441.8 1400.3,308.8 1421.2,574.3 1442.1,729.0 1463.0,738.7" fill="none" stroke="#ff0000" stroke-opacity="0.6" stroke-width="2.5" stroke-linejoin="miter"/>
<polyline points="1442.1,738.7 1463.0,729.0 1483.9,714.5 1504.7,681.1 1525.6,409.9 1546.5,157.9 1567.4,146.3 1588.2,180.2 1609.1,269.6 1630.0,225.6 1650.9,366.3 1671.7,574.3 1692.6,701.4 1713.5,685.5 1734.4,699.0 1755.2,716.4 1776.1,736.7 1797.0,738.7" fill="none" stroke="#ff0000" stroke-opacity="0.6" stroke-width="2.5" stroke-linejoin="miter"/>
<polyline points="1755.2,738.7 1776.1,733.8 1797.0,711.6 1817.9,619.7 1838.7,589.7 1859.6,723.2 1880.5,721.3 1901.4,738.7 1922.2,738.7" fill="none" stroke="#ff0000" stroke-opacity="0.6" stroke-width="2.5" stroke-linejoin="miter"/>
<polyline points="1400.3,738.7 1421.2,736.2 1442.1,733.8 1463.0,729.0 1483.9,724.2 1504.7,711.6 1525.6,712.6 1546.5,729.0 1567.4,716.4 1588.2,729.0 1609.1,733.8 1630.0,736.2 1650.9,738.7" fill="none" stroke="#ff0000" stroke-opacity="0.6" stroke-width="2.5" stroke-linejoin="miter"/>
<polyline points="1901.4,738.7 1922.2,738.7 1943.1,736.2 1964.0,737.7 1984.9,738.7 2005.7,738.7 2026.6,738.7 2047.5,733.8" fill="none" stroke="#ff0000" stroke-opacity="0.6" stroke-width="2.5" stroke-linejoin="miter"/>
<polyline points="1901.4,738.7 1922.2,733.8 1943.1,705.3 1964.0,739.6 1984.9,738.7" fill="none" stroke="#000000" stroke-opacity="0.6" stroke-width="2.5" stroke-linejoin="miter"/>
<polyline points="398.3,721.7 419.2,728.0 440.1,730.4 460.9,737.7 481.8,730.4 502.7,737.7 523.6,738.7" fill="none" stroke="#ff0000" stroke-opacity="0.6" stroke-width="2.5" stroke-linejoin="miter"/>
<polyline points="460.9,738.7 481.8,733.8 502.7,731.4 523.6,736.2 544.4,738.7" fill="none" stroke="#ff0000" stroke-opacity="0.6" stroke-width="2.5" stroke-linejoin="miter"/>
<polyline points="1337.7,733.8 1358.6,716.4 1379.5,729.0 1400.3,735.3 1421.2,719.8 1442.1,718.4 1463.0,732.4 1483.9,738.7" fill="none" stroke="#ff0000" stroke-opacity="0.6" stroke-width="2.5" stroke-linejoin="miter"/>
<polyline points="252.2,738.7 273.1,734.8 293.9,729.0 314.8,718.8 335.7,712.6 356.6,712.6 377.4,740.1 398.3,721.3 419.2,731.4 440.1,733.8 460.9,722.7 481.8,694.2 502.7,722.7 523.6,722.7 544.4,731.4 565.3,735.3 586.2,738.7" fill="none" stroke="#00bfbf" stroke-opacity="0.6" stroke-width="2.5" stroke-linejoin="miter"/>
<polyline points="690.6,738.7 711.4,729.0 732.3,725.6 753.2,733.8 774.1,714.0 795.0,733.8 815.8,738.7" fill="none" stroke="#00bfbf" stroke-opacity="0.6" stroke-width="2.5" stroke-linejoin="miter"/>
<polyline points="920.2,738.7 941.1,738.7 962.0,734.3 982.8,732.9 1003.7,729.0 1024.6,726.6 1045.5,724.2 1066.3,719.8 1087.2,699.5 1108.1,636.2 1129.0,630.8 1149.8,608.6 1170.7,592.2 1191.6,599.4 1212.5,583.5 1233.3,628.4 1254.2,661.3 1275.1,659.8 1296.0,696.6 1316.8,731.9 1337.7,733.8 1358.6,738.7" fill="none" stroke="#00bfbf" stroke-opacity="0.6" stroke-width="2.5" stroke-linejoin="miter"/>
<polyline points="1525.6,733.8 1546.5,729.0 1567.4,724.2 1588.2,714.0 1609.1,705.3 1630.0,700.9 1650.9,706.8 1671.7,701.4 1692.6,685.0 1713.5,709.2 1734.4,735.8 1755.2,738.7" fill="none" stroke="#00bfbf" stroke-opacity="0.6" stroke-width="2.5" stroke-linejoin="miter"/>
<polyline points="1191.6,738.7 1212.5,705.3 1233.3,699.0 1254.2,675.8 1275.1,638.6 1296.0,704.8 1316.8,733.8 1337.7,738.7" fill="none" stroke="#00bfbf" stroke-opacity="0.6" stroke-width="2.5" stroke-linejoin="miter"/>
<polyline points="1108.1,729.0 1129.0,719.3 1149.8,714.0 1170.7,716.9 1191.6,724.2 1212.5,729.0 1233.3,727.5 1254.2,722.7 1275.1,730.0 1296.0,733.8 1316.8,731.4 1337.7,730.0 1358.6,729.0 1379.5,733.8" fill="none" stroke="#00bfbf" stroke-opacity="0.6" stroke-width="2.5" stroke-linejoin="miter"/>
<polyline points="1817.9,738.7 1838.7,736.2 1859.6,733.8 1880.5,731.9 1901.4,728.0 1922.2,723.2 1943.1,724.6 1964.0,726.6 1984.9,734.8 2005.7,736.7 2026.6,738.7" fill="none" stroke="#00bfbf" stroke-opacity="0.6" stroke-width="2.5" stroke-linejoin="miter"/>
<polyline points="1337.7,733.8 1358.6,729.0 1379.5,722.7 1400.3,729.0 1421.2,732.4 1442.1,729.0 1463.0,726.1 1483.9,727.5 1504.7,732.4 1525.6,730.4 1546.5,732.4 1567.4,733.8 1588.2,736.2 1609.1,738.7" fill="none" stroke="#00bfbf" stroke-opacity="0.6" stroke-width="2.5" stroke-linejoin="miter"/>
<polyline points="147.8,721.3 168.7,731.4 189.6,736.7 210.4,735.3 231.3,733.8 252.2,733.8 273.1,733.8 293.9,733.8 314.8,730.9 335.7,687.4 356.6,655.0 377.4,633.7 398.3,623.1 419.2,648.2 440.1,633.3 460.9,653.6 481.8,706.3 502.7,721.3 523.6,740.6 544.4,738.7" fill="none" stroke="#bf00bf" stroke-opacity="0.6" stroke-width="2.5" stroke-linejoin="miter"/>
<polyline points="168.7,738.7 189.6,733.8 210.4,730.0 231.3,725.6 252.2,728.5 273.1,736.2 293.9,736.2 314.8,738.7" fill="none" stroke="#bf00bf" stroke-opacity="0.6" stroke-width="2.5" stroke-linejoin="miter"/>
<polyline points="523.6,738.7 544.4,725.6 565.3,739.1 586.2,731.4 607.1,739.1 627.9,721.7 648.8,721.7 669.7,733.8 690.6,738.7" fill="none" stroke="#bf00bf" stroke-opacity="0.6" stroke-width="2.5" stroke-linejoin="miter"/>
<polyline points="711.4,738.7 732.3,733.8 753.2,699.0 774.1,612.5 795.0,661.3 815.8,685.0 836.7,579.6 857.6,636.2 878.5,715.5 899.3,699.0 920.2,705.3 941.1,701.4 962.0,733.8 982.8,718.8 1003.7,733.8 1024.6,738.7" fill="none" stroke="#bf00bf" stroke-opacity="0.6" stroke-width="2.5" stroke-linejoin="miter"/>
<polyline points="1024.6,738.7 1045.5,729.0 1066.3,709.2 1087.2,563.6 1108.1,675.3 1129.0,695.1 1149.8,728.0 1170.7,733.8 1191.6,738.7" fill="none" stroke="#bf00bf" stroke-opacity="0.6" stroke-width="2.5" stroke-linejoin="miter"/>
<polyline points="1149.8,738.7 1170.7,714.5 1191.6,641.0 1212.5,686.4 1233.3,728.0 1254.2,733.8 1275.1,738.7" fill="none" stroke="#bf00bf" stroke-opacity="0.6" stroke-width="2.5" stroke-linejoin="miter"/>
<polyline points="1275.1,738.7 1296.0,729.0 1316.8,709.2 1337.7,685.0 1358.6,729.0 1379.5,733.8 1400.3,738.7" fill="none" stroke="#bf00bf" stroke-opacity="0.6" stroke-width="2.5" stroke-linejoin="miter"/>
<polyline points="1421.2,738.7 1442.1,729.0 1463.0,600.9 1483.9,729.0 1504.7,733.8 1525.6,738.7" fill="none" stroke="#bf00bf" stroke-opacity="0.6" stroke-width="2.5" stroke-linejoin="miter"/>
<polyline points="1483.9,738.7 1504.7,719.3 1525.6,598.4 1546.5,441.8 1567.4,569.4 1588.2,688.9 1609.1,662.3 1630.0,644.9 1650.9,560.7 1671.7,628.4 1692.6,684.0 1713.5,713.0 1734.4,729.0 1755.2,726.6 1776.1,719.3 1797.0,691.8 1817.9,632.3 1838.7,614.9 1859.6,558.3 1880.5,519.6 1901.4,573.3 1922.2,724.2 1943.1,733.8 1964.0,733.8 1984.9,729.0 2005.7,709.7 2026.6,626.0 2047.5,645.8" fill="none" stroke="#bf00bf" stroke-opacity="0.6" stroke-width="2.5" stroke-linejoin="miter"/>
<polyline points="1003.7,738.7 1024.6,739.1 1045.5,737.2 1066.3,725.6 1087.2,735.3 1108.1,736.2 1129.0,715.9 1149.8,731.4 1170.7,738.7" fill="none" stroke="#bf00bf" stroke-opacity="0.6" stroke-width="2.5" stroke-linejoin="miter"/>
<polyline points="1525.6,738.7 1546.5,733.8 1567.4,734.3 1588.2,726.1 1609.1,717.9 1630.0,723.7 1650.9,730.4 1671.7,725.6 1692.6,731.4 1713.5,733.8 1734.4,738.7" fill="none" stroke="#bf00bf" stroke-opacity="0.6" stroke-width="2.5" stroke-linejoin="miter"/>
<polyline points="1797.0,738.7 1817.9,735.8 1838.7,721.7 1859.6,721.7 1880.5,732.9 1901.4,738.7" fill="none" stroke="#bf00bf" stroke-opacity="0.6" stroke-width="2.5" stroke-linejoin="miter"/>
<polyline points="1358.6,738.7 1379.5,729.0 1400.3,717.9 1421.2,723.7 1442.1,733.8 1463.0,738.7" fill="none" stroke="#bf00bf" stroke-opacity="0.6" stroke-width="2.5" stroke-linejoin="miter"/>
<polyline points="147.8,697.1 168.7,693.2 189.6,733.8 210.4,729.0 231.3,720.8 252.2,709.7 273.1,717.4 293.9,727.1 314.8,730.0 335.7,739.6 356.6,738.7" fill="none" stroke="#bfbf00" stroke-opacity="0.6" stroke-width="2.5" stroke-linejoin="miter"/>
<polyline points="690.6,738.7 711.4,729.0 732.3,718.8 753.2,705.3 774.1,666.1 795.0,684.0 815.8,720.3 836.7,729.0 857.6,733.8 878.5,738.7" fill="none" stroke="#bfbf00" stroke-opacity="0.6" stroke-width="2.5" stroke-linejoin="miter"/>
<polyline points="1066.3,738.7 1087.2,738.7 1108.1,734.3 1129.0,689.8 1149.8,613.4 1170.7,718.8 1191.6,738.7" fill="none" stroke="#bfbf00" stroke-opacity="0.6" stroke-width="2.5" stroke-linejoin="miter"/>
<polyline points="1650.9,738.7 1671.7,724.2 1692.6,701.4 1713.5,699.0 1734.4,688.9 1755.2,700.0 1776.1,724.2 1797.0,738.7" fill="none" stroke="#bfbf00" stroke-opacity="0.6" stroke-width="2.5" stroke-linejoin="miter"/>
<polyline points="1817.9,738.7 1838.7,729.0 1859.6,704.8 1880.5,590.7 1901.4,537.0 1922.2,535.6 1943.1,548.2 1964.0,538.0 1984.9,665.2 2005.7,735.8 2026.6,733.8 2047.5,730.9" fill="none" stroke="#bfbf00" stroke-opacity="0.6" stroke-width="2.5" stroke-linejoin="miter"/>
<polyline points="1463.0,738.7 1483.9,733.8 1504.7,724.2 1525.6,696.6 1546.5,733.8 1567.4,738.7" fill="none" stroke="#bfbf00" stroke-opacity="0.6" stroke-width="2.5" stroke-linejoin="miter"/>
<polyline points="565.3,738.7 586.2,729.0 607.1,713.5 627.9,735.8 648.8,738.7" fill="none" stroke="#bfbf00" stroke-opacity="0.6" stroke-width="2.5" stroke-linejoin="miter"/>
<polyline points="1859.6,733.8 1880.5,714.5 1901.4,733.8 1922.2,738.7" fill="none" stroke="#bfbf00" stroke-opacity="0.6" stroke-width="2.5" stroke-linejoin="miter"/>
<polyline points="419.2,738.7 440.1,741.6 460.9,738.7 481.8,726.6 502.7,685.5 523.6,604.7 544.4,634.7 565.3,627.5 586.2,714.0 607.1,739.1 627.9,736.2 648.8,732.9 669.7,724.2 690.6,719.3 711.4,711.6 732.3,730.4 753.2,729.0 774.1,733.8 795.0,738.7" fill="none" stroke="#000000" stroke-opacity="0.6" stroke-width="2.5" stroke-linejoin="miter"/>
<polyline points="523.6,738.7 544.4,731.9 565.3,714.0 586.2,731.9 607.1,740.6 627.9,738.7" fill="none" stroke="#000000" stroke-opacity="0.6" stroke-width="2.5" stroke-linejoin="miter"/>
<polyline points="753.2,738.7 774.1,733.8 795.0,671.5 815.8,681.6 836.7,736.7 857.6,711.6 878.5,685.0 899.3,722.7 920.2,724.2 941.1,729.0 962.0,738.7" fill="none" stroke="#000000" stroke-opacity="0.6" stroke-width="2.5" stroke-linejoin="miter"/>
<polyline points="857.6,738.7 878.5,733.8 899.3,724.2 920.2,663.7 941.1,573.3 962.0,543.3 982.8,668.6 1003.7,709.2 1024.6,737.2 1045.5,721.7 1066.3,739.1 1087.2,724.2 1108.1,721.7 1129.0,680.2 1149.8,733.8 1170.7,738.7" fill="none" stroke="#000000" stroke-opacity="0.6" stroke-width="2.5" stroke-linejoin="miter"/>
<polyline points="1108.1,738.7 1129.0,724.2 1149.8,705.3 1170.7,711.6 1191.6,724.2 1212.5,721.7 1233.3,736.7 1254.2,738.7" fill="none" stroke="#000000" stroke-opacity="0.6" stroke-width="2.5" stroke-linejoin="miter"/>
<polyline points="1358.6,738.7 1379.5,733.8 1400.3,729.0 1421.2,728.0 1442.1,711.6 1463.0,706.3 1483.9,699.0 1504.7,684.0 1525.6,699.0 1546.5,716.4 1567.4,724.2 1588.2,731.4 1609.1,731.9 1630.0,733.8 1650.9,738.7" fill="none" stroke="#000000" stroke-opacity="0.6" stroke-width="2.5" stroke-linejoin="miter"/>
<polyline points="1504.7,738.7 1525.6,724.2 1546.5,715.5 1567.4,729.0 1588.2,734.8 1609.1,736.2 1630.0,733.8 1650.9,724.2 1671.7,715.5 1692.6,739.1 1713.5,738.7" fill="none" stroke="#000000" stroke-opacity="0.6" stroke-width="2.5" stroke-linejoin="miter"/>
<polyline points="1776.1,738.7 1797.0,733.8 1817.9,731.4 1838.7,682.6 1859.6,724.2 1880.5,733.8 1901.4,738.7" fill="none" stroke="#000000" stroke-opacity="0.6" stroke-width="2.5" stroke-linejoin="miter"/>
<polyline points="1901.4,738.7 1922.2,733.8 1943.1,709.2 1964.0,676.3 1984.9,643.9 2005.7,641.5 2026.6,739.1 2047.5,738.7" fill="none" stroke="#000000" stroke-opacity="0.6" stroke-width="2.5" stroke-linejoin="miter"/>
<polyline points="1797.0,738.7 1817.9,721.7 1838.7,714.0 1859.6,706.3 1880.5,735.8 1901.4,738.7" fill="none" stroke="#000000" stroke-opacity="0.6" stroke-width="2.5" stroke-linejoin="miter"/>
<polyline points="147.8,742.0 168.7,741.6 189.6,740.6 210.4,739.6 231.3,738.7 252.2,738.7 273.1,739.6 293.9,740.6 314.8,740.6 335.7,740.6 356.6,738.7 377.4,734.3 398.3,737.7 419.2,731.9 440.1,722.7 460.9,690.3 481.8,677.7 502.7,653.6 523.6,738.7 544.4,732.9 565.3,728.0 586.2,723.7 607.1,708.2 627.9,738.7 648.8,737.2 669.7,731.9 690.6,717.9 711.4,733.3 732.3,738.7 753.2,733.3 774.1,726.6 795.0,733.3 815.8,729.5 836.7,730.4 857.6,726.1 878.5,734.3 899.3,737.2 920.2,717.4 941.1,710.6 962.0,619.7 982.8,602.3 1003.7,555.4 1024.6,497.9 1045.5,622.6 1066.3,679.2 1087.2,558.8 1108.1,567.5 1129.0,183.6 1149.8,203.9 1170.7,476.6 1191.6,621.2 1212.5,629.9 1233.3,628.4 1254.2,430.2 1275.1,637.1 1296.0,697.6 1316.8,703.9 1337.7,670.0 1358.6,602.3 1379.5,655.5 1400.3,658.9 1421.2,629.9 1442.1,419.5 1463.0,125.5 1483.9,181.6 1504.7,521.1 1525.6,624.6 1546.5,615.4 1567.4,521.1 1588.2,376.0 1609.1,259.0 1630.0,143.9 1650.9,111.0 1671.7,106.2 1692.6,378.4 1713.5,558.3 1734.4,619.7 1755.2,646.8 1776.1,651.1 1797.0,716.4 1817.9,725.6 1838.7,732.9 1859.6,719.3 1880.5,696.6 1901.4,407.0 1922.2,564.6 1943.1,703.9 1964.0,706.3 1984.9,690.3 2005.7,634.7 2026.6,632.3 2047.5,719.3" fill="none" stroke="#ff0000" stroke-width="5.2" stroke-linejoin="round" stroke-linecap="butt"/>
<polygon points="482.31,670.84 484.14,675.73 489.35,675.95 485.27,679.20 486.66,684.23 482.31,681.35 477.96,684.23 479.36,679.20 475.28,675.95 480.49,675.73" fill="#ff0000" stroke="#000" stroke-width="1.5" stroke-linejoin="round"/>
<polygon points="503.19,646.66 505.02,651.55 510.23,651.78 506.14,655.02 507.54,660.05 503.19,657.17 498.84,660.05 500.23,655.02 496.15,651.78 501.36,651.55" fill="#ff0000" stroke="#000" stroke-width="1.5" stroke-linejoin="round"/>
<polygon points="1004.21,548.51 1006.04,553.39 1011.25,553.62 1007.16,556.87 1008.56,561.89 1004.21,559.01 999.86,561.89 1001.25,556.87 997.17,553.62 1002.38,553.39" fill="#ff0000" stroke="#000" stroke-width="1.5" stroke-linejoin="round"/>
<polygon points="1025.08,490.97 1026.91,495.85 1032.12,496.08 1028.04,499.33 1029.43,504.35 1025.08,501.47 1020.74,504.35 1022.13,499.33 1018.05,496.08 1023.26,495.85" fill="#ff0000" stroke="#000" stroke-width="1.5" stroke-linejoin="round"/>
<polygon points="1045.96,615.72 1047.79,620.60 1053.00,620.83 1048.92,624.08 1050.31,629.10 1045.96,626.22 1041.61,629.10 1043.00,624.08 1038.92,620.83 1044.13,620.60" fill="#ff0000" stroke="#000" stroke-width="1.5" stroke-linejoin="round"/>
<polygon points="1087.71,551.89 1089.54,556.78 1094.75,557.00 1090.67,560.25 1092.06,565.28 1087.71,562.40 1083.36,565.28 1084.76,560.25 1080.67,557.00 1085.89,556.78" fill="#ff0000" stroke="#000" stroke-width="1.5" stroke-linejoin="round"/>
<polygon points="1129.46,176.67 1131.29,181.55 1136.50,181.78 1132.42,185.03 1133.81,190.06 1129.46,187.18 1125.11,190.06 1126.51,185.03 1122.43,181.78 1127.64,181.55" fill="#ff0000" stroke="#000" stroke-width="1.5" stroke-linejoin="round"/>
<polygon points="1150.34,196.98 1152.17,201.86 1157.38,202.09 1153.30,205.34 1154.69,210.36 1150.34,207.48 1145.99,210.36 1147.38,205.34 1143.30,202.09 1148.51,201.86" fill="#ff0000" stroke="#000" stroke-width="1.5" stroke-linejoin="round"/>
<polygon points="1359.10,595.41 1360.92,600.29 1366.14,600.52 1362.05,603.77 1363.45,608.79 1359.10,605.92 1354.75,608.79 1356.14,603.77 1352.06,600.52 1357.27,600.29" fill="#ff0000" stroke="#000" stroke-width="1.5" stroke-linejoin="round"/>
<polygon points="1463.48,118.64 1465.30,123.53 1470.51,123.76 1466.43,127.00 1467.83,132.03 1463.48,129.15 1459.13,132.03 1460.52,127.00 1456.44,123.76 1461.65,123.53" fill="#ff0000" stroke="#000" stroke-width="1.5" stroke-linejoin="round"/>
<polygon points="1484.35,174.73 1486.18,179.62 1491.39,179.85 1487.31,183.09 1488.70,188.12 1484.35,185.24 1480.00,188.12 1481.40,183.09 1477.31,179.85 1482.53,179.62" fill="#ff0000" stroke="#000" stroke-width="1.5" stroke-linejoin="round"/>
<polygon points="1609.61,252.10 1611.43,256.99 1616.65,257.21 1612.56,260.46 1613.96,265.49 1609.61,262.61 1605.26,265.49 1606.65,260.46 1602.57,257.21 1607.78,256.99" fill="#ff0000" stroke="#000" stroke-width="1.5" stroke-linejoin="round"/>
<polygon points="1630.48,137.02 1632.31,141.90 1637.52,142.13 1633.44,145.38 1634.83,150.41 1630.48,147.53 1626.13,150.41 1627.53,145.38 1623.45,142.13 1628.66,141.90" fill="#ff0000" stroke="#000" stroke-width="1.5" stroke-linejoin="round"/>
<polygon points="1651.36,104.14 1653.19,109.02 1658.40,109.25 1654.32,112.50 1655.71,117.53 1651.36,114.65 1647.01,117.53 1648.40,112.50 1644.32,109.25 1649.53,109.02" fill="#ff0000" stroke="#000" stroke-width="1.5" stroke-linejoin="round"/>
<polygon points="1672.24,99.30 1674.06,104.19 1679.27,104.42 1675.19,107.66 1676.58,112.69 1672.24,109.81 1667.89,112.69 1669.28,107.66 1665.20,104.42 1670.41,104.19" fill="#ff0000" stroke="#000" stroke-width="1.5" stroke-linejoin="round"/>
<polygon points="1693.11,371.53 1694.94,376.42 1700.15,376.65 1696.07,379.89 1697.46,384.92 1693.11,382.04 1688.76,384.92 1690.16,379.89 1686.07,376.65 1691.28,376.42" fill="#ff0000" stroke="#000" stroke-width="1.5" stroke-linejoin="round"/>
<polygon points="1713.99,551.41 1715.81,556.29 1721.02,556.52 1716.94,559.77 1718.34,564.79 1713.99,561.91 1709.64,564.79 1711.03,559.77 1706.95,556.52 1712.16,556.29" fill="#ff0000" stroke="#000" stroke-width="1.5" stroke-linejoin="round"/>
<polygon points="1734.86,612.82 1736.69,617.70 1741.90,617.93 1737.82,621.18 1739.21,626.20 1734.86,623.32 1730.51,626.20 1731.91,621.18 1727.82,617.93 1733.04,617.70" fill="#ff0000" stroke="#000" stroke-width="1.5" stroke-linejoin="round"/>
<polygon points="1901.87,400.06 1903.70,404.95 1908.91,405.17 1904.83,408.42 1906.22,413.45 1901.87,410.57 1897.52,413.45 1898.91,408.42 1894.83,405.17 1900.04,404.95" fill="#ff0000" stroke="#000" stroke-width="1.5" stroke-linejoin="round"/>
<polygon points="2006.25,627.81 2008.08,632.69 2013.29,632.92 2009.20,636.17 2010.60,641.19 2006.25,638.31 2001.90,641.19 2003.29,636.17 1999.21,632.92 2004.42,632.69" fill="#ff0000" stroke="#000" stroke-width="1.5" stroke-linejoin="round"/>
</g>
<rect x="147.8" y="18.2" width="1899.7" height="725.3" fill="none" stroke="#000" stroke-width="2.5"/>
<line x1="147.8" y1="743.5" x2="157.8" y2="743.5" stroke="#000" stroke-width="2"/>
<line x1="2047.5" y1="743.5" x2="2037.5" y2="743.5" stroke="#000" stroke-width="2"/>
<line x1="147.8" y1="646.8" x2="157.8" y2="646.8" stroke="#000" stroke-width="2"/>
<line x1="2047.5" y1="646.8" x2="2037.5" y2="646.8" stroke="#000" stroke-width="2"/>
<line x1="147.8" y1="550.1" x2="157.8" y2="550.1" stroke="#000" stroke-width="2"/>
<line x1="2047.5" y1="550.1" x2="2037.5" y2="550.1" stroke="#000" stroke-width="2"/>
<line x1="147.8" y1="453.4" x2="157.8" y2="453.4" stroke="#000" stroke-width="2"/>
<line x1="2047.5" y1="453.4" x2="2037.5" y2="453.4" stroke="#000" stroke-width="2"/>
<line x1="147.8" y1="356.7" x2="157.8" y2="356.7" stroke="#000" stroke-width="2"/>
<line x1="2047.5" y1="356.7" x2="2037.5" y2="356.7" stroke="#000" stroke-width="2"/>
<line x1="147.8" y1="260.0" x2="157.8" y2="260.0" stroke="#000" stroke-width="2"/>
<line x1="2047.5" y1="260.0" x2="2037.5" y2="260.0" stroke="#000" stroke-width="2"/>
<line x1="147.8" y1="163.3" x2="157.8" y2="163.3" stroke="#000" stroke-width="2"/>
<line x1="2047.5" y1="163.3" x2="2037.5" y2="163.3" stroke="#000" stroke-width="2"/>
<line x1="147.8" y1="66.6" x2="157.8" y2="66.6" stroke="#000" stroke-width="2"/>
<line x1="2047.5" y1="66.6" x2="2037.5" y2="66.6" stroke="#000" stroke-width="2"/>
<line x1="147.8" y1="743.5" x2="147.8" y2="733.5" stroke="#000" stroke-width="2"/>
<line x1="147.8" y1="18.2" x2="147.8" y2="28.2" stroke="#000" stroke-width="2"/>
<line x1="440.1" y1="743.5" x2="440.1" y2="733.5" stroke="#000" stroke-width="2"/>
<line x1="440.1" y1="18.2" x2="440.1" y2="28.2" stroke="#000" stroke-width="2"/>
<line x1="774.1" y1="743.5" x2="774.1" y2="733.5" stroke="#000" stroke-width="2"/>
<line x1="774.1" y1="18.2" x2="774.1" y2="28.2" stroke="#000" stroke-width="2"/>
<line x1="1066.3" y1="743.5" x2="1066.3" y2="733.5" stroke="#000" stroke-width="2"/>
<line x1="1066.3" y1="18.2" x2="1066.3" y2="28.2" stroke="#000" stroke-width="2"/>
<line x1="1421.2" y1="743.5" x2="1421.2" y2="733.5" stroke="#000" stroke-width="2"/>
<line x1="1421.2" y1="18.2" x2="1421.2" y2="28.2" stroke="#000" stroke-width="2"/>
<line x1="1713.5" y1="743.5" x2="1713.5" y2="733.5" stroke="#000" stroke-width="2"/>
<line x1="1713.5" y1="18.2" x2="1713.5" y2="28.2" stroke="#000" stroke-width="2"/>
<text transform="translate(67.89,752.53) scale(1.0895,1)" x="0" y="0" font-family="Liberation Sans" font-style="normal" font-size="32.39" fill="#000">0.00</text>
<text transform="translate(67.89,655.82) scale(1.0895,1)" x="0" y="0" font-family="Liberation Sans" font-style="normal" font-size="32.39" fill="#000">0.02</text>
<text transform="translate(67.89,559.11) scale(1.0895,1)" x="0" y="0" font-family="Liberation Sans" font-style="normal" font-size="32.39" fill="#000">0.04</text>
<text transform="translate(67.89,462.41) scale(1.0895,1)" x="0" y="0" font-family="Liberation Sans" font-style="normal" font-size="32.39" fill="#000">0.06</text>
<text transform="translate(67.89,365.70) scale(1.0895,1)" x="0" y="0" font-family="Liberation Sans" font-style="normal" font-size="32.39" fill="#000">0.08</text>
<text transform="translate(67.89,268.99) scale(1.0895,1)" x="0" y="0" font-family="Liberation Sans" font-style="normal" font-size="32.39" fill="#000">0.10</text>
<text transform="translate(67.89,172.29) scale(1.0895,1)" x="0" y="0" font-family="Liberation Sans" font-style="normal" font-size="32.39" fill="#000">0.12</text>
<text transform="translate(67.89,75.58) scale(1.0895,1)" x="0" y="0" font-family="Liberation Sans" font-style="normal" font-size="32.39" fill="#000">0.14</text>
<text transform="translate(97.68,779.10) scale(0.9885,1)" x="0" y="0" font-family="Liberation Sans" font-style="normal" font-size="33.33" fill="#000">01-Jun</text>
<text transform="translate(389.56,779.10) scale(0.9918,1)" x="0" y="0" font-family="Liberation Sans" font-style="normal" font-size="33.33" fill="#000">15-Jun</text>
<text transform="translate(728.99,779.10) scale(0.9859,1)" x="0" y="0" font-family="Liberation Sans" font-style="normal" font-size="33.33" fill="#000">01-Jul</text>
<text transform="translate(1021.48,779.10) scale(0.9837,1)" x="0" y="0" font-family="Liberation Sans" font-style="normal" font-size="33.33" fill="#000">15-Jul</text>
<text transform="translate(1365.72,779.10) scale(1.0327,1)" x="0" y="0" font-family="Liberation Sans" font-style="normal" font-size="33.33" fill="#000">01-Aug</text>
<text transform="translate(1658.25,779.10) scale(1.0325,1)" x="0" y="0" font-family="Liberation Sans" font-style="normal" font-size="33.33" fill="#000">15-Aug</text>
<g transform="rotate(-90)">
<text transform="translate(-632.28,47.00) scale(1.0368,1)" x="0" y="0" font-family="Liberation Sans" font-style="normal" font-size="42.90" fill="#000">% Land Area under</text>
<text transform="translate(-243.25,47.30) scale(1.0338,1)" x="0" y="0" font-family="Liberation Serif" font-style="italic" font-size="43.69" fill="#000">M</text>
<text transform="translate(-205.54,52.95) scale(1.1023,1)" x="0" y="0" font-family="Liberation Serif" font-style="italic" font-size="25.29" fill="#000">d</text>
<polyline points="-180.5,25.8 -152.2,36.1 -180.5,46.3" fill="none" stroke="#000" stroke-width="1.9" stroke-linejoin="miter"/>
<text transform="translate(-147.04,47.30) scale(0.8812,1)" x="0" y="0" font-family="Liberation Serif" font-style="normal" font-size="43.69" fill="#000">2</text>
</g>
<rect x="161.1" y="31.7" width="930.2" height="160.7" fill="#fff" stroke="#000" stroke-width="2.5"/>
<line x1="178.2" y1="52.4" x2="217.0" y2="52.4" stroke="#0000ff" stroke-opacity="0.6" stroke-width="2.5"/>
<text transform="translate(244.71,62.12) scale(1.0691,1)" x="0" y="0" font-family="Liberation Sans" font-style="normal" font-size="27.89" fill="#000">2004</text>
<line x1="178.2" y1="90.7" x2="217.0" y2="90.7" stroke="#008000" stroke-opacity="0.6" stroke-width="2.5"/>
<text transform="translate(244.71,100.45) scale(1.0691,1)" x="0" y="0" font-family="Liberation Sans" font-style="normal" font-size="27.89" fill="#000">2005</text>
<line x1="178.2" y1="129.1" x2="217.0" y2="129.1" stroke="#ff0000" stroke-opacity="0.6" stroke-width="2.5"/>
<text transform="translate(244.71,138.78) scale(1.0691,1)" x="0" y="0" font-family="Liberation Sans" font-style="normal" font-size="27.89" fill="#000">2006</text>
<line x1="178.2" y1="167.4" x2="217.0" y2="167.4" stroke="#00bfbf" stroke-opacity="0.6" stroke-width="2.5"/>
<text transform="translate(244.71,177.11) scale(1.0691,1)" x="0" y="0" font-family="Liberation Sans" font-style="normal" font-size="27.89" fill="#000">2007</text>
<line x1="370.6" y1="52.4" x2="409.4" y2="52.4" stroke="#bf00bf" stroke-opacity="0.6" stroke-width="2.5"/>
<text transform="translate(437.11,62.12) scale(1.0691,1)" x="0" y="0" font-family="Liberation Sans" font-style="normal" font-size="27.89" fill="#000">2008</text>
<line x1="370.6" y1="90.7" x2="409.4" y2="90.7" stroke="#bfbf00" stroke-opacity="0.6" stroke-width="2.5"/>
<text transform="translate(437.11,100.45) scale(1.0691,1)" x="0" y="0" font-family="Liberation Sans" font-style="normal" font-size="27.89" fill="#000">2009</text>
<line x1="370.6" y1="129.1" x2="409.4" y2="129.1" stroke="#000000" stroke-opacity="0.6" stroke-width="2.5"/>
<text transform="translate(437.11,138.78) scale(1.0691,1)" x="0" y="0" font-family="Liberation Sans" font-style="normal" font-size="27.89" fill="#000">2010</text>
<line x1="370.6" y1="167.4" x2="409.4" y2="167.4" stroke="#0000ff" stroke-opacity="0.6" stroke-width="2.5"/>
<text transform="translate(437.11,177.11) scale(1.0691,1)" x="0" y="0" font-family="Liberation Sans" font-style="normal" font-size="27.89" fill="#000">2011</text>
<line x1="563.0" y1="52.4" x2="601.8" y2="52.4" stroke="#008000" stroke-opacity="0.6" stroke-width="2.5"/>
<text transform="translate(629.51,62.12) scale(1.0691,1)" x="0" y="0" font-family="Liberation Sans" font-style="normal" font-size="27.89" fill="#000">2012</text>
<line x1="563.0" y1="90.7" x2="601.8" y2="90.7" stroke="#ff0000" stroke-opacity="0.6" stroke-width="2.5"/>
<text transform="translate(629.51,100.45) scale(1.0691,1)" x="0" y="0" font-family="Liberation Sans" font-style="normal" font-size="27.89" fill="#000">2013</text>
<line x1="563.0" y1="129.1" x2="601.8" y2="129.1" stroke="#00bfbf" stroke-opacity="0.6" stroke-width="2.5"/>
<text transform="translate(629.51,138.78) scale(1.0691,1)" x="0" y="0" font-family="Liberation Sans" font-style="normal" font-size="27.89" fill="#000">2014</text>
<line x1="563.0" y1="167.4" x2="601.8" y2="167.4" stroke="#bf00bf" stroke-opacity="0.6" stroke-width="2.5"/>
<text transform="translate(629.51,177.11) scale(1.0691,1)" x="0" y="0" font-family="Liberation Sans" font-style="normal" font-size="27.89" fill="#000">2015</text>
<line x1="755.4" y1="52.4" x2="794.2" y2="52.4" stroke="#bfbf00" stroke-opacity="0.6" stroke-width="2.5"/>
<text transform="translate(821.91,62.12) scale(1.0691,1)" x="0" y="0" font-family="Liberation Sans" font-style="normal" font-size="27.89" fill="#000">2016</text>
<line x1="755.4" y1="90.7" x2="794.2" y2="90.7" stroke="#000000" stroke-opacity="0.6" stroke-width="2.5"/>
<text transform="translate(821.91,100.45) scale(1.0691,1)" x="0" y="0" font-family="Liberation Sans" font-style="normal" font-size="27.89" fill="#000">2017</text>
<line x1="755.4" y1="129.1" x2="794.2" y2="129.1" stroke="#0000ff" stroke-opacity="0.6" stroke-width="2.5"/>
<text transform="translate(821.91,138.78) scale(1.0691,1)" x="0" y="0" font-family="Liberation Sans" font-style="normal" font-size="27.89" fill="#000">2018</text>
<line x1="755.4" y1="167.4" x2="794.2" y2="167.4" stroke="#008000" stroke-opacity="0.6" stroke-width="2.5"/>
<text transform="translate(821.91,177.11) scale(1.0691,1)" x="0" y="0" font-family="Liberation Sans" font-style="normal" font-size="27.89" fill="#000">2019</text>
<line x1="947.8" y1="52.4" x2="986.6" y2="52.4" stroke="#ff0000" stroke-opacity="0.6" stroke-width="2.5"/>
<text transform="translate(1014.31,62.12) scale(1.0691,1)" x="0" y="0" font-family="Liberation Sans" font-style="normal" font-size="27.89" fill="#000">2020</text>
<line x1="947.8" y1="90.7" x2="986.6" y2="90.7" stroke="#00bfbf" stroke-opacity="0.6" stroke-width="2.5"/>
<text transform="translate(1014.31,100.45) scale(1.0691,1)" x="0" y="0" font-family="Liberation Sans" font-style="normal" font-size="27.89" fill="#000">2021</text>
<line x1="947.8" y1="129.1" x2="986.6" y2="129.1" stroke="#ff0000" stroke-width="4.6"/>
<polygon points="948.80,122.16 950.63,127.05 955.84,127.27 951.76,130.52 953.15,135.55 948.80,132.67 944.45,135.55 945.84,130.52 941.76,127.27 946.97,127.05" fill="#ff0000" stroke="#000" stroke-width="1.5" stroke-linejoin="round"/>
<polygon points="986.60,122.16 988.43,127.05 993.64,127.27 989.56,130.52 990.95,135.55 986.60,132.67 982.25,135.55 983.64,130.52 979.56,127.27 984.77,127.05" fill="#ff0000" stroke="#000" stroke-width="1.5" stroke-linejoin="round"/>
<text transform="translate(1014.31,138.78) scale(1.0691,1)" x="0" y="0" font-family="Liberation Sans" font-style="normal" font-size="27.89" fill="#000">2022</text>
<line x1="947.8" y1="167.4" x2="986.6" y2="167.4" stroke="#bf00bf" stroke-opacity="0.6" stroke-width="2.5"/>
<text transform="translate(1014.31,177.11) scale(1.0691,1)" x="0" y="0" font-family="Liberation Sans" font-style="normal" font-size="27.89" fill="#000">2023</text>
<rect x="167.5" y="201.5" width="756.5" height="51.5" rx="5" ry="5" fill="#faefdc" stroke="#6e6e6e" stroke-width="2"/>
<text transform="translate(176.59,236.20) scale(1.1071,1)" x="0" y="0" font-family="Liberation Sans" font-style="normal" font-size="31.74" fill="#000">Max area under</text>
<text transform="translate(539.84,236.20) scale(1.1271,1)" x="0" y="0" font-family="Liberation Sans" font-style="normal" font-size="31.74" fill="#000">for 2022 in 22% of days</text>
<text transform="translate(436.45,236.30) scale(1.0549,1)" x="0" y="0" font-family="Liberation Serif" font-style="italic" font-size="33.23" fill="#000">M</text>
<text transform="translate(464.80,241.18) scale(1.0638,1)" x="0" y="0" font-family="Liberation Serif" font-style="italic" font-size="22.00" fill="#000">d</text>
<polyline points="487,220.5 504.4,228.6 487,236.7" fill="none" stroke="#000" stroke-width="1.8" stroke-linejoin="miter"/>
<text transform="translate(513.57,236.60) scale(0.9735,1)" x="0" y="0" font-family="Liberation Serif" font-style="normal" font-size="34.15" fill="#000">2</text>
</svg></body></html>
